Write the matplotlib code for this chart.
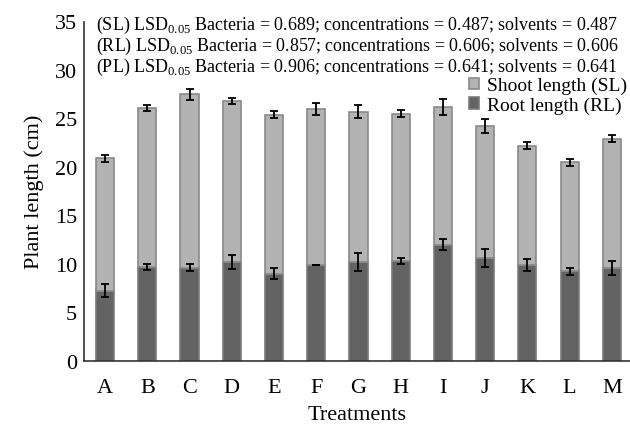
import matplotlib.pyplot as plt
import numpy as np

# treatments and values
treatments = ['A', 'B', 'C', 'D', 'E', 'F', 'G', 'H', 'I', 'J', 'K', 'L', 'M']
root_len = [7.25, 9.7, 9.6, 10.2, 9.0, 9.9, 10.2, 10.3, 12.0, 10.6, 9.9, 9.25, 9.6]
shoot_len = [13.65, 16.4, 17.9, 16.6, 16.4, 16.1, 15.5, 15.2, 14.2, 13.6, 12.3, 11.25, 13.3]
root_err = [0.7, 0.35, 0.35, 0.7, 0.55, 0.0, 0.9, 0.35, 0.6, 0.9, 0.6, 0.35, 0.7]
shoot_err = [0.35, 0.3, 0.55, 0.35, 0.33, 0.6, 0.65, 0.35, 0.85, 0.7, 0.35, 0.35, 0.35]
lsd_lines = [
    "(SL) LSD$_{0.05}$ Bacteria = 0.689; concentrations = 0.487; solvents = 0.487",
    "(RL) LSD$_{0.05}$ Bacteria = 0.857; concentrations = 0.606; solvents = 0.606",
    "(PL) LSD$_{0.05}$ Bacteria = 0.906; concentrations = 0.641; solvents = 0.641",
]

plt.rcParams['font.family'] = 'Liberation Serif'
plt.rcParams['mathtext.fontset'] = 'custom'
plt.rcParams['mathtext.rm'] = 'Liberation Serif'

W, H = 630, 427
fig = plt.figure(figsize=(W / 100, H / 100), dpi=100)
ax = fig.add_axes([84 / W, 1 - 362 / H, (W - 84) / W, (362 - 22.5) / H])

x = np.arange(len(treatments))
width = 0.43
ax.bar(x, root_len, width, color='#636363', edgecolor='#7a7a7a', linewidth=1.2,
       label='Root length (RL)', zorder=2)
ax.bar(x, shoot_len, width, bottom=root_len, color='#b3b3b3', edgecolor='#8a8a8a',
       linewidth=1.2, label='Shoot length (SL)', zorder=2)

top = np.array(root_len) + np.array(shoot_len)
ax.errorbar(x, root_len, yerr=root_err, fmt='none', ecolor='black', elinewidth=1.3,
            capsize=3, capthick=1.3, zorder=3)
ax.errorbar(x, top, yerr=shoot_err, fmt='none', ecolor='black', elinewidth=1.3,
            capsize=3, capthick=1.3, zorder=3)

ax.set_xlim(-0.5, 12.43)
ax.set_ylim(0, 35)
ax.set_yticks(range(0, 36, 5))
ax.set_xticks(x)
ax.set_xticklabels(treatments)
ax.tick_params(axis='y', length=0, labelsize=16, pad=5)
ax.tick_params(axis='x', length=0, labelsize=16, pad=12)
ax.set_ylabel('Plant length (cm)', fontsize=16, labelpad=8)
ax.set_xlabel('Treatments', fontsize=16, labelpad=6)
for s in ['top', 'right']:
    ax.spines[s].set_visible(False)
for s in ['left', 'bottom']:
    ax.spines[s].set_color('#333333')
    ax.spines[s].set_linewidth(1.2)

for i, line in enumerate(lsd_lines):
    fig.text(96 / W, 1 - (25 + 21 * i) / H, line, fontsize=13, va='center', ha='left')

handles, labels = ax.get_legend_handles_labels()
ax.legend(handles[::-1], labels[::-1], loc='upper right', bbox_to_anchor=(627 / W, 1 - 78 / H),
          bbox_transform=fig.transFigure, frameon=False, fontsize=14,
          handlelength=0.5, handleheight=0.5, handletextpad=0.4, labelspacing=0.12,
          borderaxespad=0, borderpad=0)

fig.savefig('out.png', dpi=100)
